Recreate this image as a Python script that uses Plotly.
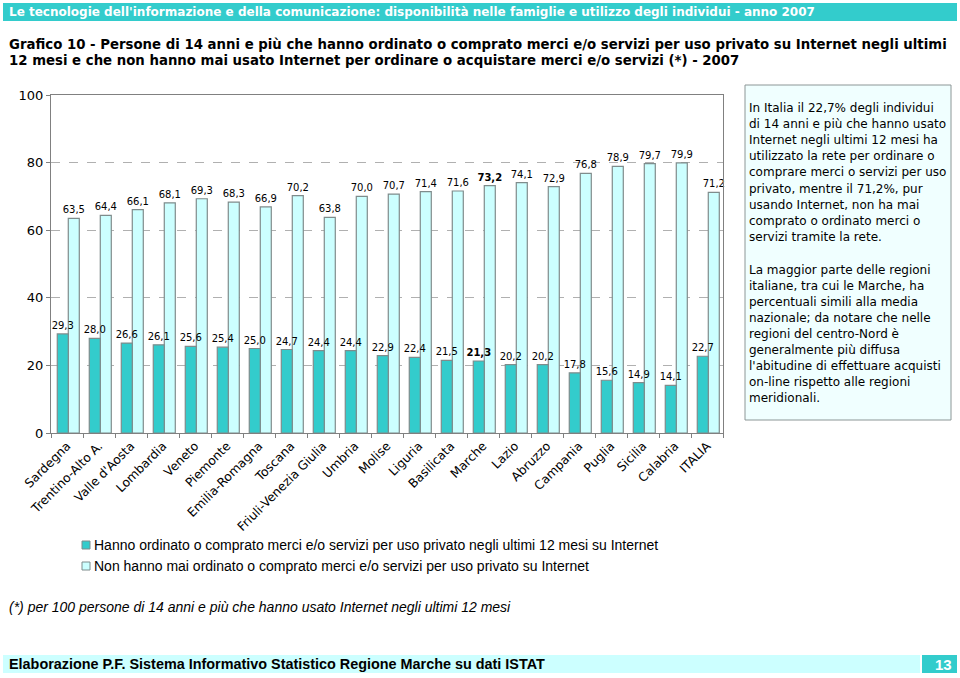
import plotly.graph_objects as go

categories = ["Sardegna", "Trentino-Alto A.", "Valle d'Aosta", "Lombardia", "Veneto",
              "Piemonte", "Emilia-Romagna", "Toscana", "Friuli-Venezia Giulia", "Umbria",
              "Molise", "Liguria", "Basilicata", "Marche", "Lazio", "Abruzzo", "Campania",
              "Puglia", "Sicilia", "Calabria", "ITALIA"]
ordered = [29.3, 28.0, 26.6, 26.1, 25.6, 25.4, 25.0, 24.7, 24.4, 24.4, 22.9, 22.4,
           21.5, 21.3, 20.2, 20.2, 17.8, 15.6, 14.9, 14.1, 22.7]
never = [63.5, 64.4, 66.1, 68.1, 69.3, 68.3, 66.9, 70.2, 63.8, 70.0, 70.7, 71.4,
         71.6, 73.2, 74.1, 72.9, 76.8, 78.9, 79.7, 79.9, 71.2]
series_names = ["Hanno ordinato o comprato merci e/o servizi per uso privato negli ultimi 12 mesi su Internet",
                "Non hanno mai ordinato o comprato merci e/o servizi per uso privato su Internet"]
y_ticks = [0, 20, 40, 60, 80, 100]
highlight = "Marche"

W, H = 960, 678
L, R, T, B = 51, 723, 95, 433

def px(x):
    return (x - L) / (R - L)

def py(y):
    return (B - y) / (B - T)

def fmt(v, cat):
    s = f"{v:.1f}".replace(".", ",")
    return f"<b>{s}</b>" if cat == highlight else s

TEAL = "#33CCCC"
LIGHT = "#CCFFFF"
EDGE = "#7F8C8C"
FONT = "Verdana, DejaVu Sans, sans-serif"
NARROW = "Liberation Sans, Arial, sans-serif"
BW = 0.344
SHIFT = 0.04

fig = go.Figure()
# light series drawn first so the dark series' labels stay on top
fig.add_trace(go.Bar(
    x=categories, y=never, name=series_names[1], offset=SHIFT, width=BW,
    marker=dict(color=LIGHT, line=dict(color=EDGE, width=1.2)),
    text=[fmt(v, c) for v, c in zip(never, categories)],
    textposition="outside", textfont=dict(family=FONT, size=10, color="black"),
    cliponaxis=False, constraintext="none", showlegend=False))
fig.add_trace(go.Bar(
    x=categories, y=ordered, name=series_names[0], offset=SHIFT - BW, width=BW,
    marker=dict(color=TEAL, line=dict(color=EDGE, width=1.2)),
    text=[fmt(v, c) for v, c in zip(ordered, categories)],
    textposition="outside", textfont=dict(family=FONT, size=10, color="black"),
    cliponaxis=False, constraintext="none", showlegend=False))

fig.update_layout(
    width=W, height=H, autosize=False,
    margin=dict(l=L, r=W - R, t=T, b=H - B, pad=0),
    paper_bgcolor="white", plot_bgcolor="white",
    barmode="overlay",
    font=dict(family=FONT, color="black"),
    showlegend=False,
)
fig.update_xaxes(
    showline=True, linecolor="#808080", linewidth=1, mirror=True,
    ticks="outside", tickson="boundaries", ticklen=4, tickcolor="#808080",
    tickangle=-45, tickfont=dict(family=FONT, size=12.3, color="black"),
    showgrid=False)
fig.update_yaxes(
    range=[0, 100], tickvals=y_ticks, ticktext=[str(v) for v in y_ticks],
    showline=True, linecolor="#808080", linewidth=1, mirror=True,
    ticks="outside", ticklen=4, tickcolor="#808080",
    tickfont=dict(family=FONT, size=13, color="black"),
    showgrid=True, gridcolor="#B0B0B0", griddash="dash", gridwidth=1,
    zeroline=False)

shapes = []
annotations = []
# top header bar
shapes.append(dict(type="rect", xref="paper", yref="paper", x0=px(3), x1=px(957), y0=py(21), y1=py(3),
                   fillcolor=TEAL, line=dict(width=0), layer="below"))
annotations.append(dict(xref="paper", yref="paper", x=px(7), y=py(12), xanchor="left", yanchor="middle",
                        showarrow=False, text="<b>Le tecnologie dell'informazione e della comunicazione: disponibilità nelle famiglie e utilizzo degli individui - anno 2007</b>",
                        font=dict(family=FONT, size=12, color="white")))
# title
title_lines = ["Grafico 10 - Persone di 14 anni e più che hanno ordinato o comprato merci e/o servizi per uso privato su Internet negli ultimi",
               "12 mesi e che non hanno mai usato Internet per ordinare o acquistare merci e/o servizi (*) - 2007"]
for i, t in enumerate(title_lines):
    annotations.append(dict(xref="paper", yref="paper", x=px(7), y=py(44 + 17 * i), xanchor="left", yanchor="middle",
                            showarrow=False, text=f"<b>{t}</b>", font=dict(family=FONT, size=13.3, color="black")))
# comment box
shapes.append(dict(type="rect", xref="paper", yref="paper", x0=px(745), x1=px(951), y0=py(420), y1=py(85),
                   fillcolor="#F0FFFF", line=dict(color="#8C9696", width=1)))
para1 = ["In Italia il 22,7% degli individui", "di 14 anni e più che hanno usato",
         "Internet negli ultimi 12 mesi ha", "utilizzato la rete per ordinare o",
         "comprare merci o servizi per uso", "privato, mentre il 71,2%, pur",
         "usando Internet, non ha mai", "comprato o ordinato merci o", "servizi tramite la rete."]
para2 = ["La maggior parte delle regioni", "italiane, tra cui le Marche, ha",
         "percentuali simili alla media", "nazionale; da notare che nelle",
         "regioni del centro-Nord è", "generalmente più diffusa",
         "l'abitudine di effettuare acquisti", "on-line rispetto alle regioni", "meridionali."]
for i, t in enumerate(para1):
    annotations.append(dict(xref="paper", yref="paper", x=px(747), y=py(108 + 16.1 * i), xanchor="left", yanchor="middle",
                            showarrow=False, text=t, font=dict(family=FONT, size=12, color="black")))
for i, t in enumerate(para2):
    annotations.append(dict(xref="paper", yref="paper", x=px(747), y=py(270 + 16 * i), xanchor="left", yanchor="middle",
                            showarrow=False, text=t, font=dict(family=FONT, size=12, color="black")))
# legend (drawn by hand to match the compact original)
for i, (name, col) in enumerate(zip(series_names, [TEAL, LIGHT])):
    yc = 545 + 21 * i
    shapes.append(dict(type="rect", xref="paper", yref="paper", x0=px(82), x1=px(90), y0=py(yc + 4), y1=py(yc - 4),
                       fillcolor=col, line=dict(color=EDGE, width=1)))
    annotations.append(dict(xref="paper", yref="paper", x=px(92), y=py(yc), xanchor="left", yanchor="middle",
                            showarrow=False, text=name, font=dict(family=NARROW, size=14, color="black")))
# footnote
annotations.append(dict(xref="paper", yref="paper", x=px(7), y=py(607), xanchor="left", yanchor="middle",
                        showarrow=False, text="<i>(*) per 100 persone di 14 anni e più che hanno usato Internet negli ultimi 12 mesi</i>",
                        font=dict(family=NARROW, size=14, color="black")))
# footer
shapes.append(dict(type="rect", xref="paper", yref="paper", x0=px(3), x1=px(920), y0=py(673), y1=py(655),
                   fillcolor=LIGHT, line=dict(width=0)))
shapes.append(dict(type="rect", xref="paper", yref="paper", x0=px(922), x1=px(957), y0=py(673), y1=py(655),
                   fillcolor=TEAL, line=dict(width=0)))
annotations.append(dict(xref="paper", yref="paper", x=px(7), y=py(664), xanchor="left", yanchor="middle",
                        showarrow=False, text="<b>Elaborazione P.F. Sistema Informativo Statistico Regione Marche su dati ISTAT</b>",
                        font=dict(family=NARROW, size=14.4, color="black")))
annotations.append(dict(xref="paper", yref="paper", x=px(954), y=py(664), xanchor="right", yanchor="middle",
                        showarrow=False, text="<b>13</b>",
                        font=dict(family=NARROW, size=15, color="white")))

fig.update_layout(shapes=shapes, annotations=annotations)
fig.write_html("out.html", config={"displayModeBar": False},
               post_script="document.body.style.margin='0';document.body.style.overflow='hidden';")
